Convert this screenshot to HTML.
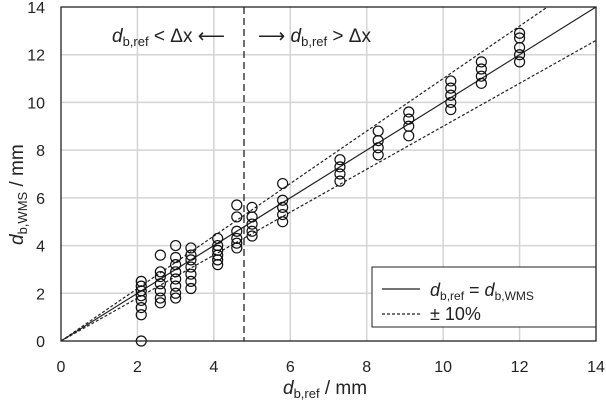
<!DOCTYPE html>
<html><head><meta charset="utf-8"><style>
body{margin:0;background:#fff;font-family:"Liberation Sans",sans-serif}
svg text{font-family:"Liberation Sans",sans-serif;fill:#222}
</style></head><body>
<svg id="c" width="606" height="405">
<g id="grid"></g>
<g id="ticks"></g>
<g id="lines"></g>
<g id="pts"></g>
<line x1="244" y1="7" x2="244" y2="341" stroke="#222" stroke-width="1.3" stroke-dasharray="7,4"/>
<text x="112" y="42" font-size="19"><tspan font-style="italic">d</tspan><tspan font-size="13" dy="4">b,ref</tspan><tspan dy="-4"> &lt; Δx ⟵</tspan></text>
<text x="258" y="42" font-size="19">⟶ <tspan font-style="italic">d</tspan><tspan font-size="13" dy="4">b,ref</tspan><tspan dy="-4"> &gt; Δx</tspan></text>
<text x="283" y="394" font-size="19"><tspan font-style="italic">d</tspan><tspan font-size="13" dy="4">b,ref</tspan><tspan dy="-4"> / mm</tspan></text>
<text transform="translate(23,245) rotate(-90)" font-size="19"><tspan font-style="italic">d</tspan><tspan font-size="13" dy="4">b,WMS</tspan><tspan dy="-4"> / mm</tspan></text>
<g>
<rect x="372" y="267" width="224" height="60" fill="#fff" stroke="#222" stroke-width="1"/>
<line x1="382" y1="289" x2="420" y2="289" stroke="#222" stroke-width="1.2"/>
<text x="430" y="296" font-size="18"><tspan font-style="italic">d</tspan><tspan font-size="12" dy="4">b,ref</tspan><tspan dy="-4"> = </tspan><tspan font-style="italic">d</tspan><tspan font-size="12" dy="4">b,WMS</tspan></text>
<line x1="382" y1="314" x2="420" y2="314" stroke="#222" stroke-width="1.2" stroke-dasharray="3,2"/>
<text x="430" y="320" font-size="18">± 10%</text>
</g>
<rect x="61" y="7" width="535" height="334" fill="none" stroke="#222" stroke-width="1.3"/>
</svg>
<script>
const ticks=[0,2,4,6,8,10,12,14];
const xs=[2.1,2.6,3.0,3.4,4.1,4.6,5.0,5.8,7.3,8.3,9.1,10.2,11.0,12.0];
const ys=[
[0,1.1,1.4,1.7,1.9,2.1,2.3,2.5],
[1.6,1.8,2.1,2.4,2.7,2.9,3.6],
[1.8,2.0,2.3,2.6,2.9,3.2,3.5,4.0],
[2.2,2.5,2.8,3.1,3.4,3.6,3.9],
[3.2,3.4,3.6,3.8,4.0,4.3],
[3.9,4.1,4.3,4.6,5.2,5.7],
[4.4,4.6,4.9,5.2,5.6],
[5.0,5.3,5.6,5.9,6.6],
[6.7,7.0,7.3,7.6],
[7.8,8.1,8.4,8.8],
[8.6,9.0,9.3,9.6],
[9.7,10.0,10.3,10.6,10.9],
[10.8,11.1,11.4,11.7],
[11.7,12.0,12.3,12.7,12.9]];
const X0=61,X1=596,Y0=341,Y1=7;
const sx=v=>X0+v*(X1-X0)/14, sy=v=>Y0-v*(Y0-Y1)/14;
const NS='http://www.w3.org/2000/svg';
function mk(p,t,a){const e=document.createElementNS(NS,t);for(const k in a)e.setAttribute(k,a[k]);document.getElementById(p).appendChild(e);return e;}
ticks.forEach(t=>{
 if(t>0&&t<14){
  const g1=mk('grid','line',{x1:sx(t),x2:sx(t),y1:Y1,y2:Y0,stroke:'#d4d4d4','stroke-width':1.5});
  
  
  const g2=mk('grid','line',{x1:X0,x2:X1,y1:sy(t),y2:sy(t),stroke:'#d4d4d4','stroke-width':1.5});
  
  
 }
 const a=mk('ticks','text',{x:sx(t),y:372,'font-size':16,'text-anchor':'middle'});a.textContent=t;
 
 
 const b=mk('ticks','text',{x:45,y:sy(t)+6,'font-size':16,'text-anchor':'end'});b.textContent=t;
 
 
});
const l1=mk('lines','line',{x1:sx(0),y1:sy(0),x2:sx(14),y2:sy(14),stroke:'#222','stroke-width':1.2});


const l2=mk('lines','line',{x1:sx(0),y1:sy(0),x2:sx(14/1.1),y2:sy(14),stroke:'#222','stroke-width':1.2,'stroke-dasharray':'3,2'});


const l3=mk('lines','line',{x1:sx(0),y1:sy(0),x2:sx(14),y2:sy(12.6),stroke:'#222','stroke-width':1.2,'stroke-dasharray':'3,2'});


xs.forEach((x,i)=>ys[i].forEach(y=>{
 const c=mk('pts','circle',{cx:sx(x),cy:sy(y),r:5,fill:'none',stroke:'#111','stroke-width':1.2});
 
 
}));
</script>
</body></html>
